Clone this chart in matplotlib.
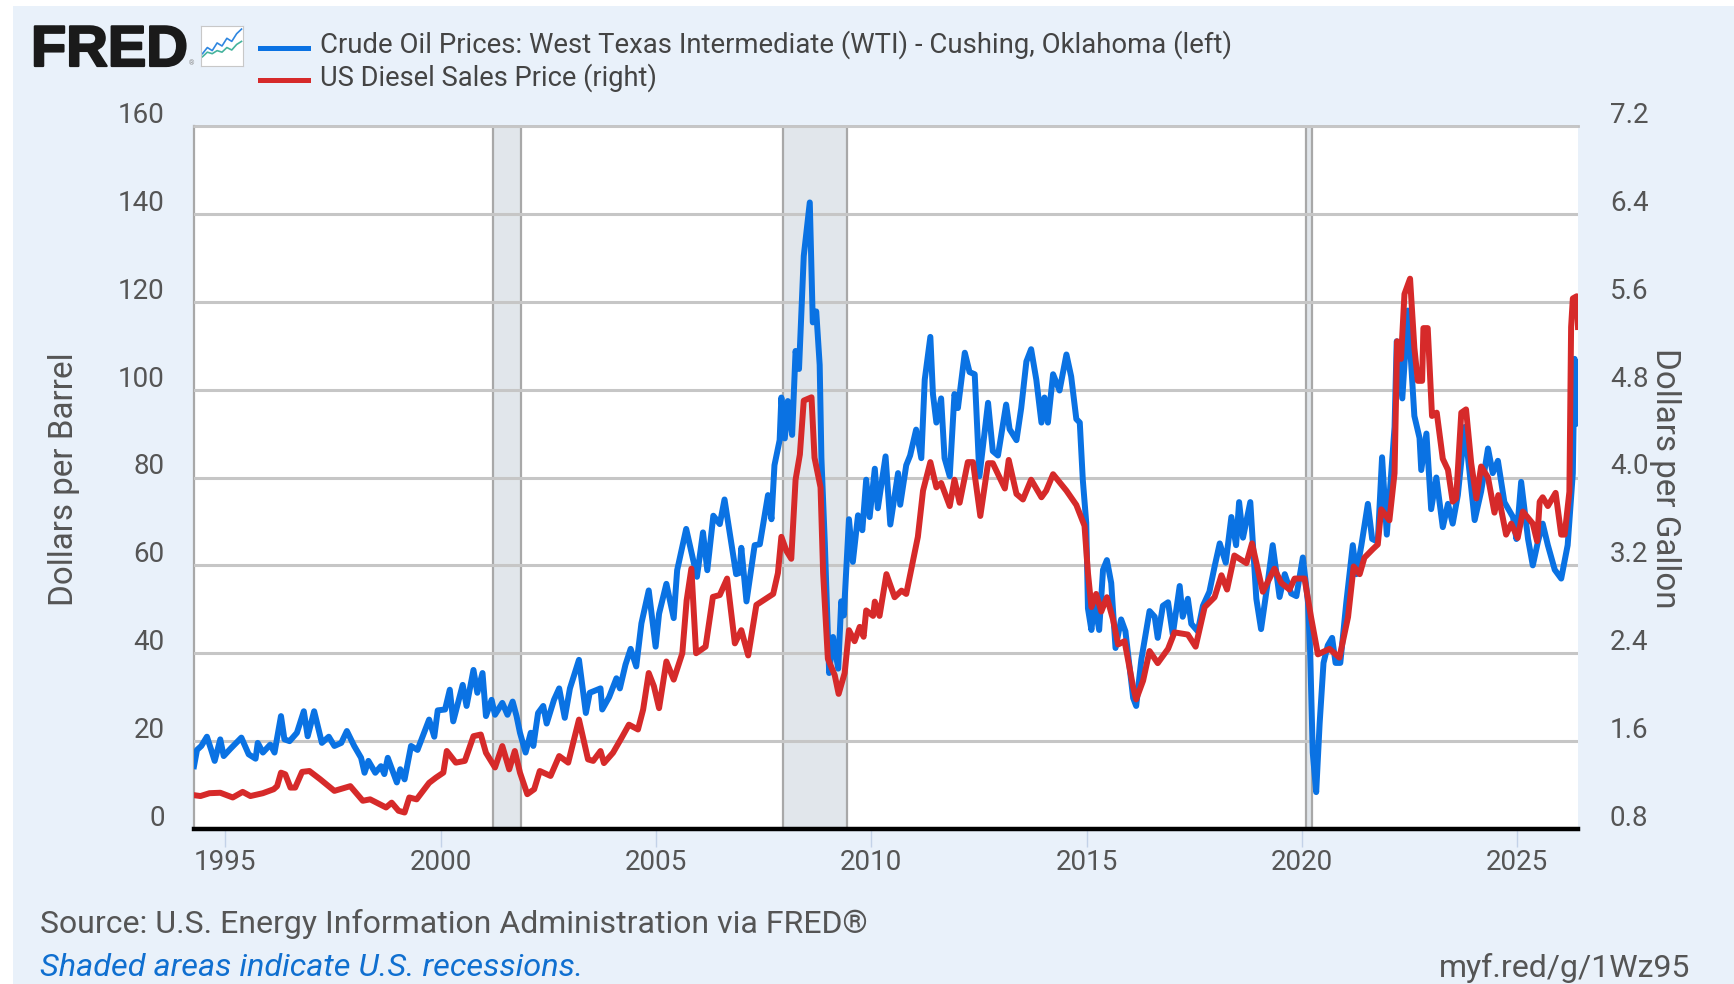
import matplotlib
matplotlib.use("Agg")

import matplotlib.pyplot as plt
import matplotlib.patheffects as pe
from matplotlib.patches import Rectangle
from matplotlib.transforms import ScaledTranslation

W, H = 1734, 984

wti_years = [1994.27,1994.34,1994.44,1994.57,1994.67,1994.75,1994.88,1994.96,1995.12,1995.37,1995.54,1995.70,1995.75,1995.87,1996.04,1996.14,1996.29,1996.37,1996.49,1996.66,1996.82,1996.91,1997.06,1997.24,1997.40,1997.53,1997.69,1997.82,1997.99,1998.15,1998.23,1998.32,1998.48,1998.61,1998.69,1998.77,1998.98,1999.06,1999.16,1999.31,1999.46,1999.73,1999.85,1999.93,2000.10,2000.21,2000.29,2000.51,2000.60,2000.76,2000.85,2000.97,2001.05,2001.18,2001.26,2001.43,2001.55,2001.67,2001.76,2001.84,2001.97,2002.09,2002.15,2002.26,2002.38,2002.46,2002.63,2002.75,2002.88,2003.00,2003.21,2003.37,2003.46,2003.71,2003.75,2003.91,2004.08,2004.16,2004.29,2004.41,2004.54,2004.66,2004.83,2004.99,2005.07,2005.24,2005.41,2005.49,2005.70,2005.95,2006.09,2006.19,2006.33,2006.48,2006.59,2006.86,
             2006.94,2006.98,2007.10,2007.29,2007.41,2007.60,2007.68,2007.75,2007.87,2007.91,2007.99,2008.06,2008.16,2008.24,2008.32,2008.43,2008.57,2008.64,2008.72,2008.80,2008.84,2008.92,2009.02,2009.11,2009.23,2009.30,2009.36,2009.48,2009.57,2009.69,2009.79,2009.88,2009.96,2010.08,2010.15,2010.33,2010.44,2010.62,2010.67,2010.81,2010.90,2011.04,2011.16,2011.24,2011.37,2011.43,2011.51,2011.62,2011.70,2011.82,2011.93,2012.01,2012.17,2012.28,2012.40,2012.51,2012.71,2012.82,2012.94,2013.13,2013.21,2013.37,2013.48,2013.60,2013.71,2013.83,2013.95,2014.02,2014.10,2014.22,2014.37,2014.53,2014.64,2014.76,2014.84,2014.91,2014.99,2015.03,2015.11,2015.18,2015.29,2015.38,2015.47,2015.57,2015.67,2015.80,2015.90,2016.08,
             2016.15,2016.27,2016.46,2016.58,2016.65,2016.77,2016.89,2017.00,2017.16,2017.23,2017.35,2017.43,2017.58,2017.70,2017.85,2017.97,2018.09,2018.23,2018.36,2018.47,2018.54,2018.63,2018.80,2018.94,2019.05,2019.21,2019.32,2019.48,2019.60,2019.75,2019.87,2020.02,2020.14,2020.19,2020.25,2020.33,2020.41,2020.50,2020.60,2020.70,2020.78,2020.89,2021.03,2021.18,2021.26,2021.38,2021.53,2021.63,2021.76,2021.86,2021.97,2022.15,2022.20,2022.33,2022.46,2022.61,2022.73,2022.77,2022.89,2023.00,2023.12,2023.27,2023.39,2023.50,2023.62,2023.78,2023.93,2024.01,2024.16,2024.32,2024.43,2024.55,2024.70,2024.90,2024.98,2025.09,2025.25,2025.36,2025.48,2025.59,2025.71,2025.87,2026.02,2026.17,2026.29,2026.33,2026.41]
wti_values = [14.3,18,18.9,21,18,15.5,20.4,16.6,18.3,20.8,17,16,19.6,17.4,19.2,17.4,25.7,20.4,20,21.9,26.8,21.1,26.8,19.6,21,18.9,19.6,22.3,18.9,16.2,12.8,15.5,12.8,14.3,12.5,16.2,10.6,13.6,11.3,18.9,18,24.9,21,27,27.2,31.7,24.5,32.8,28,36.2,31,35.5,25.7,29.4,26,28.7,26,29,25.7,21.9,17.4,21.9,18.9,26.4,28,24,29.4,32,25.3,32,38.5,26.4,31,32,27.2,30,34.3,32,37.4,41,37,46.8,54.3,41.5,49,55.8,48,58.9,68.3,57.4,67.5,58.9,71.3,69.4,75,58,
              58.3,64,51.8,64.6,64.8,76,70.5,82.8,88.5,98.2,88.9,97.4,89.7,108.8,104.7,130.4,142.6,115.3,117.8,105.6,84.4,64.9,35.5,43.7,36.5,51.8,48.6,70.5,60.8,71.4,68,79.5,71,82,73,84.8,69.3,81,73.8,82.8,85,90.9,84.4,102.3,112,99,92.5,98,84.4,80.3,99,95.8,108.4,104,103.5,80.3,97,86,85,96.6,91,88.5,95.8,106.4,109.2,102.3,92.5,98.2,92.5,103.5,99.8,108,103,93.3,92.5,79.5,69.7,50.2,45.3,51.8,45.3,59,61.2,56,41.2,47.7,45,29.8,
              28,38.6,49.6,48.3,43.5,50.8,51.6,44.3,55.3,48.3,52.4,46.7,45,50.8,54,59.7,65,60.6,71,64.6,74.4,66.3,74.4,52.4,45.5,56.5,64.6,52.8,58,53.6,53,61.8,51.6,40.2,17.4,8.4,24,37.8,41.8,43.5,37.8,37.8,51.6,64.6,58,64.6,74,66,65.4,84.6,67,91.5,111,98,118,94,89,81.7,90,72.8,80,68.7,74,69.5,76,91.5,77.7,70.3,76.8,86.6,81,83.8,74.4,71,66,79,66,60,65.4,69.5,64.6,59,57,64.6,81,107,92.3]

diesel_years = [1994.27,1994.42,1994.63,1994.88,1995.17,1995.40,1995.58,1995.87,1996.12,1996.20,1996.29,1996.39,1996.51,1996.62,1996.78,1996.95,1997.20,1997.53,1997.90,1998.19,1998.36,1998.73,1998.86,1999.02,1999.16,1999.27,1999.44,1999.73,1999.89,2000.06,2000.14,2000.35,2000.56,2000.76,2000.93,2001.05,2001.26,2001.43,2001.59,2001.72,2001.84,2002.01,2002.17,2002.30,2002.55,2002.75,2002.96,2003.21,2003.42,2003.54,2003.71,2003.79,2004.00,2004.20,2004.37,2004.58,2004.70,2004.83,2004.95,2005.07,2005.24,2005.41,2005.61,2005.71,2005.82,2005.93,2006.15,2006.32,2006.48,2006.65,2006.83,
                2006.98,2007.14,2007.33,2007.72,2007.83,2007.91,2008.03,2008.14,2008.24,2008.34,2008.43,2008.61,2008.68,2008.82,2008.88,2008.99,2009.15,2009.24,2009.38,2009.48,2009.61,2009.73,2009.82,2009.88,2010.04,2010.08,2010.19,2010.35,2010.54,2010.70,2010.81,2010.93,2011.08,2011.20,2011.37,2011.51,2011.62,2011.82,2011.93,2012.05,2012.24,2012.36,2012.53,2012.71,2012.82,2013.10,2013.19,2013.37,2013.52,2013.71,2013.95,2014.06,2014.22,2014.53,2014.76,2014.95,2015.03,2015.11,2015.22,2015.34,2015.47,2015.61,2015.73,2015.88,2016.08,
                2016.15,2016.31,2016.46,2016.65,2016.89,2017.04,2017.35,2017.53,2017.74,2017.97,2018.13,2018.26,2018.43,2018.71,2018.84,2019.09,2019.36,2019.52,2019.71,2019.83,2020.06,2020.21,2020.37,2020.64,2020.87,2021.07,2021.20,2021.34,2021.45,2021.65,2021.76,2021.84,2022.03,2022.15,2022.21,2022.30,2022.38,2022.51,2022.61,2022.69,2022.79,2022.82,2022.92,2023.02,2023.13,2023.27,2023.39,2023.50,2023.58,2023.70,2023.81,2023.93,2024.05,2024.16,2024.32,2024.47,2024.56,2024.74,2024.86,2025.01,2025.13,2025.36,2025.46,2025.52,2025.59,2025.71,2025.89,2026.02,2026.10,2026.21,2026.25,2026.29,2026.38,2026.41]
diesel_values = [1.108,1.10,1.126,1.13,1.087,1.138,1.10,1.126,1.162,1.19,1.313,1.298,1.177,1.177,1.32,1.328,1.253,1.147,1.19,1.057,1.07,.996,1.04,.966,.95,1.087,1.07,1.22,1.268,1.313,1.51,1.404,1.42,1.645,1.66,1.494,1.36,1.555,1.343,1.51,1.313,1.117,1.162,1.328,1.283,1.464,1.404,1.796,1.434,1.42,1.51,1.40,1.494,1.63,1.75,1.706,1.887,2.22,2.1,1.90,2.325,2.16,2.40,2.88,3.17,2.40,2.46,2.913,2.93,3.08,2.49,
                 2.61,2.38,2.84,2.94,3.13,3.46,3.33,3.26,3.98,4.21,4.70,4.73,4.18,3.91,3.13,2.35,2.2,2.03,2.22,2.61,2.51,2.64,2.55,2.79,2.74,2.87,2.74,3.12,2.91,2.97,2.94,3.17,3.46,3.88,4.14,3.91,3.95,3.74,3.98,3.77,4.14,4.14,3.65,4.13,4.13,3.9,4.16,3.85,3.8,3.98,3.82,3.88,4.03,3.88,3.75,3.56,3.13,2.82,2.94,2.78,2.91,2.71,2.48,2.51,2.09,
                 1.98,2.15,2.42,2.31,2.44,2.59,2.57,2.46,2.82,2.91,3.11,2.98,3.29,3.22,3.40,2.96,3.17,3.04,2.98,3.08,3.08,2.73,2.39,2.44,2.36,2.73,3.19,3.12,3.27,3.35,3.39,3.71,3.61,4.04,5.24,5.08,5.67,5.81,5.18,4.88,4.88,5.36,5.36,4.56,4.59,4.17,4.07,3.78,3.81,4.59,4.62,4.13,3.81,4.10,4.0,3.68,3.84,3.48,3.58,3.45,3.69,3.58,3.42,3.78,3.82,3.74,3.86,3.48,3.48,3.87,5.37,5.63,5.65,5.37]

recessions = [(2001.21, 2001.87), (2007.94, 2009.43), (2020.10, 2020.23)]
left_ticks = [0, 20, 40, 60, 80, 100, 120, 140, 160]
right_ticks = [0.8, 1.6, 2.4, 3.2, 4.0, 4.8, 5.6, 6.4, 7.2]
year_ticks = [1995, 2000, 2005, 2010, 2015, 2020, 2025]

# little chart in the logo
icon_x = [0, 1, 2, 3, 4, 5, 6, 7, 8]
icon_blue = [2, 4, 3, 5.5, 4.5, 7, 6, 8.5, 10]
icon_green = [1, 2.5, 2, 3, 2.5, 4, 3.2, 5, 6]

BLUE = "#0a72e3"
RED = "#d62a2a"
BG = "#e9f1fa"
TEXT = "#555555"
plt.rcParams["font.family"] = ["Roboto", "DejaVu Sans"]

fig = plt.figure(figsize=(W / 100, H / 100), dpi=100, facecolor="white")
fig.patches.append(Rectangle((13 / W, 0), 1 - 13 / W, 1 - 6 / H, transform=fig.transFigure,
                             facecolor=BG, edgecolor="none", zorder=-10))

ax = fig.add_axes([194 / W, 1 - 829 / H, (1578 - 194) / W, (829 - 126) / H])
ax.set_facecolor("white")
ax.set_xlim(1994.27, 2026.41)
ax.set_ylim(0, 160)

for start, end in recessions:
    ax.axvspan(start, end, facecolor="#e1e6eb", edgecolor="#a8a8a8", linewidth=1.6, zorder=1)

ax.set_yticks(left_ticks)
ax.set_xticks(year_ticks)
ax.grid(axis="y", color="#c6c6c6", linewidth=2.2, zorder=2)
ax.set_axisbelow(False)
ax.plot(wti_years, wti_values, color=BLUE, linewidth=4.3, solid_joinstyle="round", zorder=3)

ax.spines["right"].set_visible(False)
ax.spines["top"].set_color("#c0c0c0")
ax.spines["top"].set_linewidth(2)
ax.spines["left"].set_color("#a8a8a8")
ax.spines["left"].set_linewidth(1.6)
ax.spines["bottom"].set_color("black")
ax.spines["bottom"].set_linewidth(3.2)
ax.spines["bottom"].set_zorder(6)
ax.tick_params(axis="y", length=0, pad=21, labelsize=20, labelcolor=TEXT)
ax.tick_params(axis="x", length=13, width=1, color="#c3d2e8", pad=1.5, labelsize=20, labelcolor=TEXT)

ax2 = ax.twinx()
ax2.set_ylim(0.8, 7.2)
ax2.set_yticks(right_ticks)
ax2.set_yticklabels(["%.1f" % t for t in right_ticks])
ax2.plot(diesel_years, diesel_values, color=RED, linewidth=4.3, solid_joinstyle="round", zorder=4)
for s in ax2.spines.values():
    s.set_visible(False)
ax2.tick_params(axis="y", length=0, pad=23, labelsize=20, labelcolor=TEXT)

# y labels sit a bit above their gridlines in the original
shift = ScaledTranslation(0, 13.5 / 100, fig.dpi_scale_trans)
for lab in ax.get_yticklabels() + ax2.get_yticklabels():
    lab.set_transform(lab.get_transform() + shift)


def px_text(x, y, s, **kw):
    return fig.text(x / W, 1 - y / H, s, **kw)


px_text(64, 479, "Dollars per Barrel", rotation=90, ha="center", va="center", fontsize=23.9, color=TEXT)
px_text(1665, 478, "Dollars per Gallon", rotation=270, ha="center", va="center", fontsize=23.9, color=TEXT)

logo = px_text(31, 51, "FRED", family=["Liberation Sans", "DejaVu Sans"], fontweight="bold", fontsize=41.5,
               color="#1a1a1a", ha="left", va="center")
logo.set_path_effects([pe.withStroke(linewidth=1.6, foreground="#1a1a1a")])
px_text(189, 64, "®", fontsize=5, color="#888888", ha="left", va="center")

icon = fig.add_axes([201 / W, 1 - 66 / H, 42 / W, 40 / H])
icon.plot(icon_x, icon_blue, color="#2f86e0", linewidth=1.2)
icon.plot(icon_x, icon_green, color="#45b39d", linewidth=1.2)
icon.set_xticks([])
icon.set_yticks([])
icon.set_xlim(-0.3, 8.3)
icon.set_ylim(-2, 11)
for s in icon.spines.values():
    s.set_color("#c8c8c8")

fig.add_artist(plt.Line2D([260 / W, 308 / W], [1 - 48 / H, 1 - 48 / H], color=BLUE, linewidth=3.6))
fig.add_artist(plt.Line2D([260 / W, 308 / W], [1 - 80 / H, 1 - 80 / H], color=RED, linewidth=3.6))
px_text(320, 45, "Crude Oil Prices: West Texas Intermediate (WTI) - Cushing, Oklahoma (left)",
        fontsize=19.8, color="#444444", ha="left", va="center")
px_text(320, 78, "US Diesel Sales Price (right)", fontsize=19.6, color="#444444", ha="left", va="center")

px_text(40, 924, "Source: U.S. Energy Information Administration via FRED®", fontsize=23, color=TEXT,
        ha="left", va="center")
px_text(40, 968, "Shaded areas indicate U.S. recessions.", fontsize=23.4, style="italic", color="#0f6fd0",
        ha="left", va="center")
px_text(1690, 968, "myf.red/g/1Wz95", fontsize=23, color=TEXT, ha="right", va="center")

fig.savefig("out.png", dpi=100, facecolor=fig.get_facecolor())
